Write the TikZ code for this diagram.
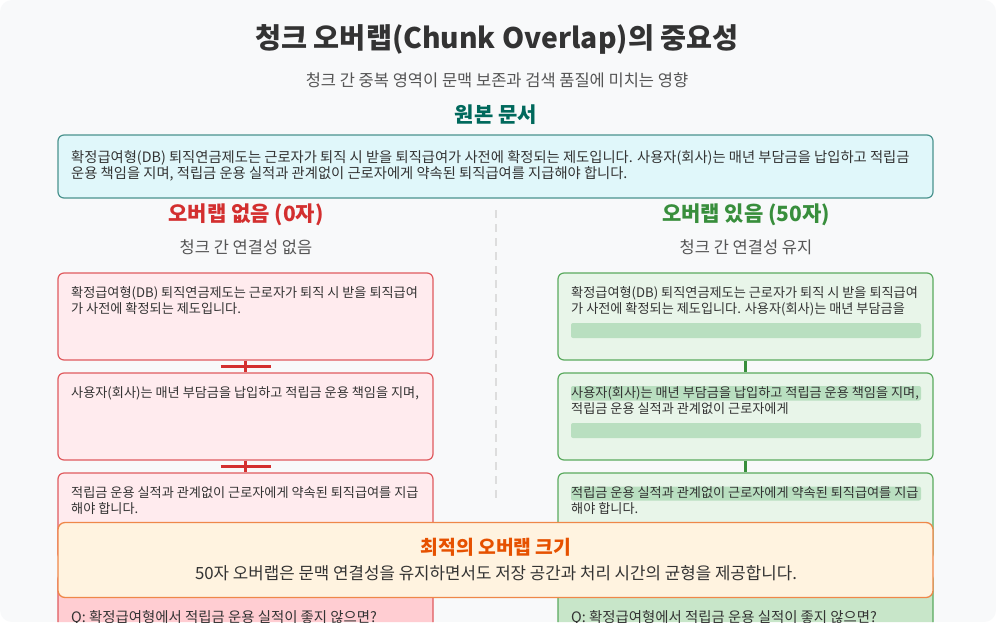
\documentclass[tikz,border=0pt]{standalone}
\usepackage{fontspec}
\setmainfont{Noto Sans CJK KR}
\usetikzlibrary{calc}
\definecolor{bgpanel}{HTML}{F8F9FA}
\definecolor{titlec}{HTML}{333333}
\definecolor{subc}{HTML}{555555}
\definecolor{tealc}{HTML}{00695C}
\definecolor{docfill}{HTML}{E0F7FA}
\definecolor{docdraw}{HTML}{4A938E}
\definecolor{redc}{HTML}{D32F2F}
\definecolor{redfill}{HTML}{FFEBEE}
\definecolor{reddraw}{HTML}{E05A5E}
\definecolor{redq}{HTML}{FFCDD2}
\definecolor{greenc}{HTML}{388E3C}
\definecolor{greenfill}{HTML}{E8F5E9}
\definecolor{greendraw}{HTML}{5AAA5E}
\definecolor{greenhl}{HTML}{B9DFC0}
\definecolor{greenq}{HTML}{C8E6C9}
\definecolor{orangec}{HTML}{E65100}
\definecolor{orangefill}{HTML}{FFF3E0}
\definecolor{orangedraw}{HTML}{EF8749}
\definecolor{dividerc}{HTML}{DDDDDD}
\tikzset{
  chunkbox/.style={draw, rounded corners=6pt, line width=1.2pt, minimum width=375pt, minimum height=87pt, inner sep=0pt},
  redbox/.style={chunkbox, draw=reddraw, fill=redfill},
  redqbox/.style={chunkbox, draw=reddraw, fill=redq},
  greenbox/.style={chunkbox, draw=greendraw, fill=greenfill},
  greenqbox/.style={chunkbox, draw=greendraw, fill=greenq},
  bodytxt/.style={anchor=base west, inner sep=0pt, text=titlec, font=\fontsize{13.15}{16}\selectfont},
  qtxt/.style={anchor=base west, inner sep=0pt, text=titlec, font=\fontsize{14.4}{17}\selectfont},
  doctxt/.style={anchor=base west, inner sep=0pt, text=titlec, font=\fontsize{14.3}{17}\selectfont},
  subtxt/.style={inner sep=0pt, text=subc, font=\fontsize{16.5}{20}\selectfont},
  headtxt/.style={inner sep=0pt, font=\bfseries\fontsize{21}{25}\selectfont},
  hlbar/.style={fill=greenhl, rounded corners=2pt},
  redconn/.style={draw=redc, line width=2.2pt},
  greenconn/.style={draw=greenc, line width=2.2pt},
  divider/.style={draw=dividerc, line width=1.8pt, dash pattern=on 8pt off 6pt},
}
\begin{document}
\begin{tikzpicture}[x=1pt,y=-1pt]
\useasboundingbox (0,0) rectangle (1000,640);
\fill[white] (0,0) rectangle (1000,640);
\begin{scope}
\clip[rounded corners=12pt] (0,0) rectangle (996,622);
\fill[bgpanel] (0,0) rectangle (996,622);

% titles
\node[inner sep=0pt, text=titlec, font=\bfseries\fontsize{28.3}{34}\selectfont] (title) at (497,39) {청크 오버랩(Chunk Overlap)의 중요성};
\node[subtxt] (subtitle) at (497,80) {청크 간 중복 영역이 문맥 보존과 검색 품질에 미치는 영향};
\node[inner sep=0pt, text=tealc, font=\bfseries\fontsize{21}{25}\selectfont] (orighead) at (496,115) {원본 문서};

% original document
\node[draw=docdraw, fill=docfill, rounded corners=6pt, line width=1.2pt, minimum width=875pt, minimum height=63pt, inner sep=0pt] (doc) at (495.5,166.5) {};
\node[doctxt] (doc1) at (71,162.2) {확정급여형(DB) 퇴직연금제도는 근로자가 퇴직 시 받을 퇴직급여가 사전에 확정되는 제도입니다. 사용자(회사)는 매년 부담금을 납입하고 적립금};
\node[doctxt] (doc2) at (71,178.2) {운용 책임을 지며, 적립금 운용 실적과 관계없이 근로자에게 약속된 퇴직급여를 지급해야 합니다.};

% divider
\coordinate (dtop) at (496,210);
\coordinate (dbot) at (496,503);
\draw[divider] (dtop) -- (dbot);

% column headings
\node[headtxt, text=redc] (lhead) at (246,215) {오버랩 없음 (0자)};
\node[subtxt] (lsub) at (246,247) {청크 간 연결성 없음};
\node[headtxt, text=greenc] (rhead) at (746,215) {오버랩 있음 (50자)};
\node[subtxt] (rsub) at (746,247) {청크 간 연결성 유지};

% left chunks
\node[redbox] (L1) at (245.5,316.5) {};
\node[redbox] (L2) at (245.5,416.5) {};
\node[redbox] (L3) at (245.5,516.5) {};
\node[redqbox] (L4) at (245.5,616.5) {};
\foreach \a/\b in {L1/L2,L2/L3,L3/L4}{
  \draw[redconn] (\a.south) -- (\b.north);
  \coordinate (m\a) at ($(\a.south)!0.5!(\b.north)$);
  \draw[redconn] ($(m\a)+(-25,0)$) -- ($(m\a)+(25,0)$);
}
\node[bodytxt] (l1a) at (71,297.8) {확정급여형(DB) 퇴직연금제도는 근로자가 퇴직 시 받을 퇴직급여};
\node[bodytxt] (l1b) at (71,313.6) {가 사전에 확정되는 제도입니다.};
\node[bodytxt] (l2a) at (71,397.8) {사용자(회사)는 매년 부담금을 납입하고 적립금 운용 책임을 지며,};
\node[bodytxt] (l3a) at (71,497.8) {적립금 운용 실적과 관계없이 근로자에게 약속된 퇴직급여를 지급};
\node[bodytxt] (l3b) at (71,513.6) {해야 합니다.};
\node[qtxt] (l4a) at (71,622) {Q: 확정급여형에서 적립금 운용 실적이 좋지 않으면?};

% right chunks
\node[greenbox] (R1) at (745.5,316.5) {};
\node[greenbox] (R2) at (745.5,416.5) {};
\node[greenbox] (R3) at (745.5,516.5) {};
\node[greenqbox] (R4) at (745.5,616.5) {};
\draw[greenconn] (R1.south) -- (R2.north);
\draw[greenconn] (R2.south) -- (R3.north);
\draw[greenconn] (R3.south) -- (R4.north);
\fill[hlbar] (571,323) rectangle (921,338);
\fill[hlbar] (571,386) rectangle (921,400.5);
\fill[hlbar] (571,423) rectangle (921,438);
\fill[hlbar] (571,486.5) rectangle (921,500.5);
\node[bodytxt] (r1a) at (571,297.8) {확정급여형(DB) 퇴직연금제도는 근로자가 퇴직 시 받을 퇴직급여};
\node[bodytxt] (r1b) at (571,313.6) {가 사전에 확정되는 제도입니다. 사용자(회사)는 매년 부담금을};
\node[bodytxt] (r2a) at (571,397.8) {사용자(회사)는 매년 부담금을 납입하고 적립금 운용 책임을 지며,};
\node[bodytxt] (r2b) at (571,413.6) {적립금 운용 실적과 관계없이 근로자에게};
\node[bodytxt] (r3a) at (571,497.8) {적립금 운용 실적과 관계없이 근로자에게 약속된 퇴직급여를 지급};
\node[bodytxt] (r3b) at (571,513.6) {해야 합니다.};
\node[qtxt] (r4a) at (571,622) {Q: 확정급여형에서 적립금 운용 실적이 좋지 않으면?};

% optimal overlap box
\node[draw=orangedraw, fill=orangefill, rounded corners=7pt, line width=1.3pt, minimum width=875pt, minimum height=75pt, inner sep=0pt] (opt) at (495.5,560) {};
\node[inner sep=0pt, text=orangec, font=\bfseries\fontsize{19.3}{23}\selectfont] (opthead) at (496,547) {최적의 오버랩 크기};
\node[inner sep=0pt, text=titlec, font=\fontsize{16.8}{20}\selectfont] (opttxt) at (496,573) {50자 오버랩은 문맥 연결성을 유지하면서도 저장 공간과 처리 시간의 균형을 제공합니다.};
\end{scope}
\end{tikzpicture}
\end{document}
